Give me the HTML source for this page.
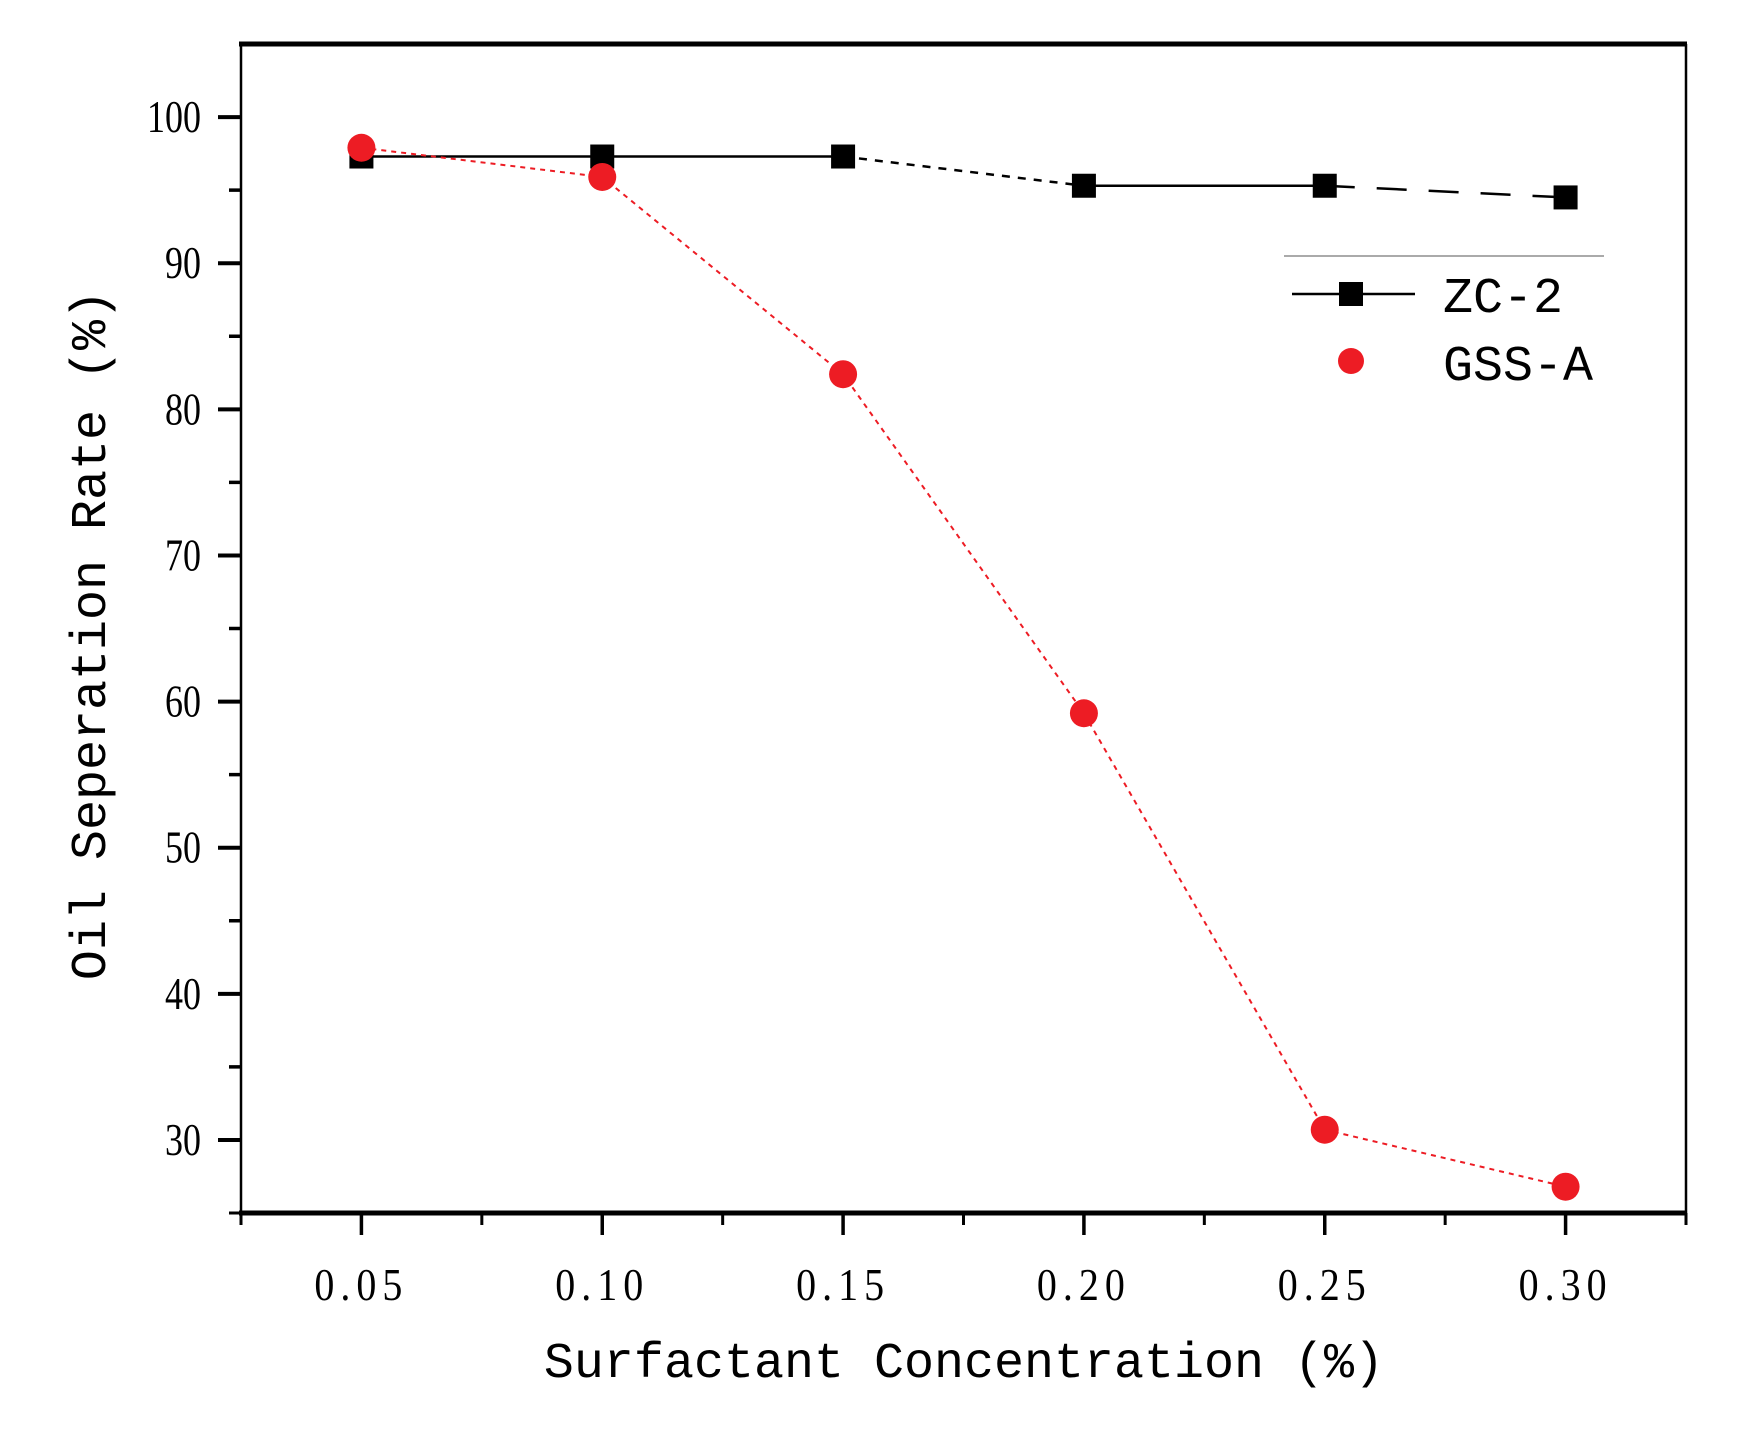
<!DOCTYPE html>
<html><head><meta charset="utf-8"><style>
html,body{margin:0;padding:0;background:#fff;}
svg{display:block;}
</style></head><body>
<svg id="chart" width="1741" height="1430" xmlns="http://www.w3.org/2000/svg">
<g id="plot"></g>
</svg>
<script>
const categories = [0.05, 0.10, 0.15, 0.20, 0.25, 0.30];
const xTickLabels = ["0.05", "0.10", "0.15", "0.20", "0.25", "0.30"];
const zc2Values = [97.3, 97.3, 97.3, 95.3, 95.3, 94.5];
const gssValues = [97.9, 95.9, 82.4, 59.2, 30.7, 26.8];
const yTicks = [30, 40, 50, 60, 70, 80, 90, 100];
const zc2SegDash = ["", "", "8,8", "", "30,22"];

const L = 241, R = 1686, T = 44, B = 1213;
const xMin = 0.025, xMax = 0.325, yMin = 25, yMax = 105;
const sx = v => L + (v - xMin) / (xMax - xMin) * (R - L);
const sy = v => B - (v - yMin) / (yMax - yMin) * (B - T);
const NS = "http://www.w3.org/2000/svg";
const g = document.getElementById('plot');
function mk(tag, attrs, parent) {
  const e = document.createElementNS(NS, tag);
  for (const k in attrs) e.setAttribute(k, attrs[k]);
  (parent || g).appendChild(e);
  return e;
}
let e;
e = mk('line', {x1: L-2, y1: T, x2: R+1, y2: T, stroke: '#000', 'stroke-width': 5});


e = mk('line', {x1: L-2, y1: B, x2: R+1, y2: B, stroke: '#000', 'stroke-width': 5});


e = mk('line', {x1: L, y1: T, x2: L, y2: B, stroke: '#000', 'stroke-width': 2.5});


e = mk('line', {x1: R, y1: T, x2: R, y2: B+10, stroke: '#000', 'stroke-width': 2.5});


for (let v = 30; v <= 100; v += 5) {
  const major = v % 10 === 0;
  e = mk('line', {x1: L - (major ? 23 : 12), y1: sy(v), x2: L, y2: sy(v), stroke: '#000', 'stroke-width': major ? 4 : 3.5});
  
  
}
e = mk('line', {x1: L - 12, y1: B, x2: L, y2: B, stroke: '#000', 'stroke-width': 3});
yTicks.forEach(v => {
  const t = mk('text', {x: 0, y: 0, transform: 'translate(201,' + (sy(v) + 15) + ') scale(0.9,1.15)', 'text-anchor': 'end', 'font-family': 'Liberation Serif, serif', 'font-size': 40, fill: '#000'});
  t.textContent = String(v);
  
  
});
for (let i = 0; i <= 12; i++) {
  const v = 0.025 + i * 0.025;
  const major = i % 2 === 1;
  e = mk('line', {x1: sx(v), y1: B, x2: sx(v), y2: B + (major ? 22 : 12), stroke: '#000', 'stroke-width': major ? 3.5 : 3});
  
  
}
categories.forEach((c, i) => {
  const t = mk('text', {x: 0, y: 0, transform: 'translate(' + sx(c) + ',1300) scale(1,1.15)', 'text-anchor': 'middle', 'font-family': 'Liberation Serif, serif', 'font-size': 40, fill: '#000', 'letter-spacing': 6});
  t.textContent = xTickLabels[i];
  
  
});
e = mk('text', {x: 964, y: 1377, 'text-anchor': 'middle', 'font-family': 'Liberation Mono, monospace', 'font-size': 50, fill: '#000'});
e.textContent = 'Surfactant Concentration (%)';


e = mk('text', {x: 0, y: 0, transform: 'translate(105,635) rotate(-90)', 'text-anchor': 'middle', 'font-family': 'Liberation Mono, monospace', 'font-size': 50, fill: '#000'});
e.textContent = 'Oil Seperation Rate (%)';


for (let i = 0; i < categories.length - 1; i++) {
  const a = {x1: sx(categories[i]), y1: sy(zc2Values[i]), x2: sx(categories[i+1]), y2: sy(zc2Values[i+1]), stroke: '#000', 'stroke-width': 2.5};
  if (zc2SegDash[i]) a['stroke-dasharray'] = zc2SegDash[i];
  e = mk('line', a);
  
  
}
categories.forEach((c, i) => {
  e = mk('rect', {x: sx(c) - 12, y: sy(zc2Values[i]) - 12, width: 24, height: 24, fill: '#000'});
  
  
});
let pts = categories.map((c, i) => sx(c) + ',' + sy(gssValues[i])).join(' ');
e = mk('polyline', {points: pts, fill: 'none', stroke: '#ed1c24', 'stroke-width': 2, 'stroke-dasharray': '5,5'});


categories.forEach((c, i) => {
  e = mk('circle', {cx: sx(c), cy: sy(gssValues[i]), r: 14, fill: '#ed1c24'});
  
  
});
const lg = mk('g', {});


e = mk('line', {x1: 1284, y1: 256, x2: 1604, y2: 256, stroke: '#aaa', 'stroke-width': 2}, lg);


e = mk('line', {x1: 1292, y1: 294, x2: 1415, y2: 294, stroke: '#000', 'stroke-width': 2.5}, lg);


e = mk('rect', {x: 1339, y: 282, width: 24, height: 24, fill: '#000'}, lg);


e = mk('text', {x: 1443, y: 312, 'font-family': 'Liberation Mono, monospace', 'font-size': 50, fill: '#000'}, lg);
e.textContent = 'ZC-2';


e = mk('circle', {cx: 1351, cy: 361, r: 13, fill: '#ed1c24'}, lg);


e = mk('text', {x: 1443, y: 380, 'font-family': 'Liberation Mono, monospace', 'font-size': 50, fill: '#000'}, lg);
e.textContent = 'GSS-A';


</script>
</body></html>
